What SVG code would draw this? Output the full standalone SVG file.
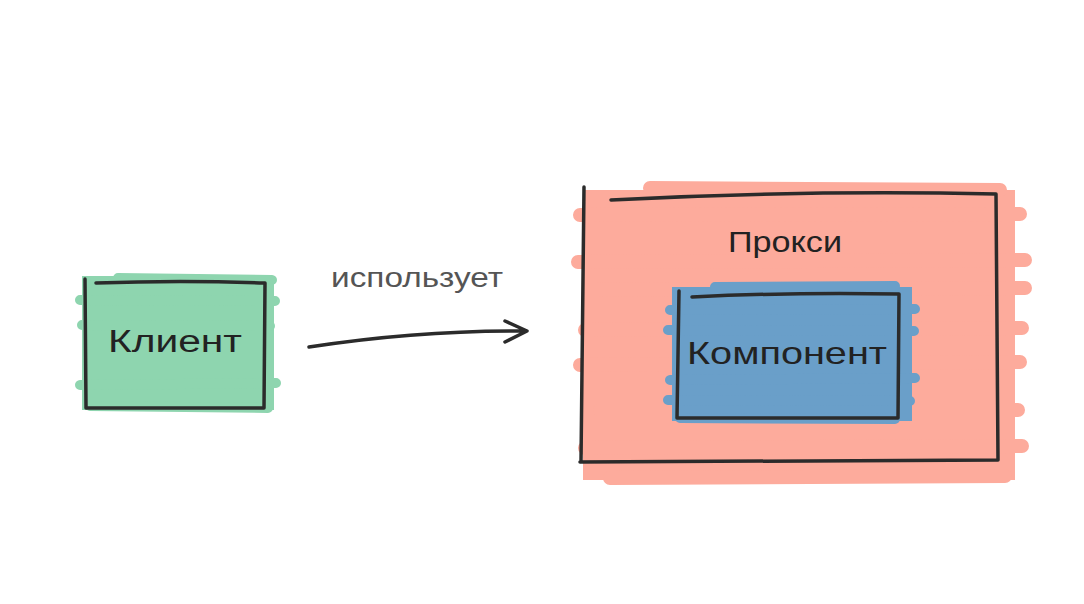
<svg xmlns="http://www.w3.org/2000/svg" width="1084" height="604" viewBox="0 0 1084 604">
<style>
.ol{fill:none;stroke:#2b2b2b;stroke-width:3.5;stroke-linecap:round;stroke-linejoin:round}
.lbl{font-family:"Liberation Sans","DejaVu Sans",sans-serif;fill:#222;text-anchor:middle}
.g{fill:#8ed5af}.g2{stroke:#8ed5af;stroke-linecap:round;fill:none}
.s{fill:#fdab9c}.s2{stroke:#fdab9c;stroke-linecap:round;fill:none}
.b{fill:#6a9fc9}.b2{stroke:#6a9fc9;stroke-linecap:round;fill:none}
</style>
<rect width="1084" height="604" fill="#ffffff"/>
<g id="client">
<rect class="g" x="82" y="276" width="192" height="134"/>
<path class="g2" stroke-width="10" d="M118 278 L272 280 M80 300 L275 301 M82 325 L270 326 M80 385 L276 383 M90 406 L268 408"/>
<path class="ol" d="M85 279 L86 408 M96 283 Q180 280 265 283 L264 408 L86 408"/>
<text class="lbl" x="175" y="352" font-size="31" textLength="134" lengthAdjust="spacingAndGlyphs">Клиент</text>
</g>
<g id="proxy">
<rect class="s" x="583" y="190" width="432" height="290"/>
<path class="s2" stroke-width="14" d="M650 188 L1000 190 M580 215 L1020 214 M578 262 L1025 260 M590 290 L1025 288 M585 330 L1022 328 M580 365 L1020 362 M600 410 L1018 410 M585 448 L1022 446 M610 478 L1005 476"/>
<path class="ol" d="M584 187 L581 462 M611 200 Q800 190 996 194 L998 460 L580 462"/>
<text class="lbl" x="785" y="252" font-size="30" textLength="114" lengthAdjust="spacingAndGlyphs">Прокси</text>
</g>
<g id="component">
<rect class="b" x="672" y="287" width="240" height="134"/>
<path class="b2" stroke-width="10" d="M715 287 L895 286 M670 310 L915 309 M668 330 L914 331 M670 380 L915 378 M668 400 L910 401 M680 418 L895 419"/>
<path class="ol" d="M679 291 L677 418 M692 297 Q795 292 899 294 L898 418 L678 418"/>
<text class="lbl" x="787" y="364" font-size="32" textLength="200" lengthAdjust="spacingAndGlyphs">Компонент</text>
</g>
<g id="connectors">
<path class="ol" stroke="#444" d="M309 347 Q420 330 527 331 M505 321 L527 331 L505 342"/>
<text x="417" y="287" font-family="Liberation Sans, DejaVu Sans, sans-serif" font-size="27" fill="#555" text-anchor="middle" textLength="172" lengthAdjust="spacingAndGlyphs">использует</text>
</g>
</svg>
